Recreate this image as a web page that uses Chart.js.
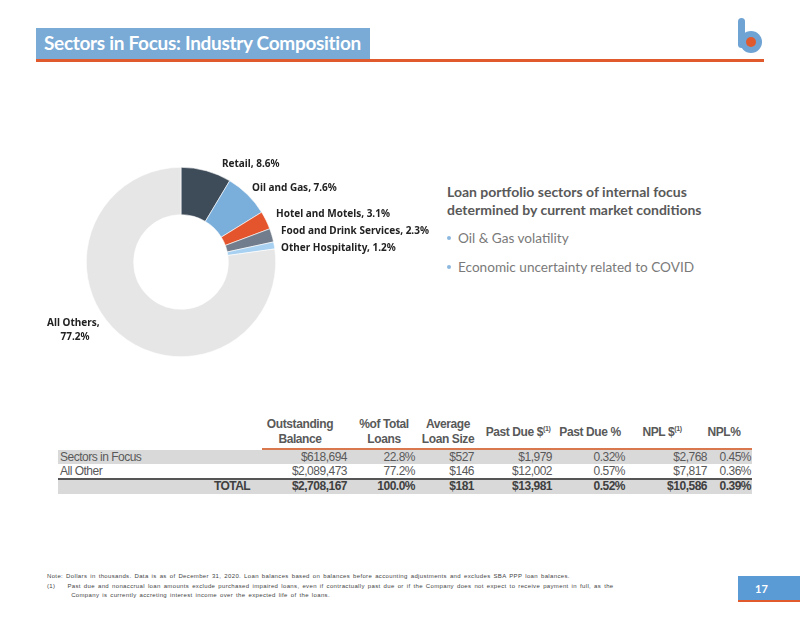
<!DOCTYPE html>
<html><head><meta charset="utf-8">
<script src="https://cdn.jsdelivr.net/npm/chart.js@4"></script>
<style>
html,body{margin:0;padding:0;background:#fff;}
#page{position:relative;width:800px;height:618px;overflow:hidden;font-family:"Liberation Sans",Arial,sans-serif;}
.abs{position:absolute;white-space:nowrap;}
#titlebar{left:36px;top:28px;width:334px;height:31px;background:#7aaad6;}
#title{left:44px;top:29px;font-family:Lato,sans-serif;font-weight:700;font-size:19px;color:#fff;letter-spacing:-0.3px;line-height:28px;}
#rule{left:36px;top:59px;width:728px;height:3px;background:#e05a2e;}
.lbl{font-family:"Noto Sans",sans-serif;font-weight:700;font-size:10px;color:#222;line-height:12px;}
#chartbox{left:86px;top:167px;width:190px;height:190px;}
.rt1{left:447px;font-family:Lato,sans-serif;font-weight:700;font-size:14px;color:#595959;line-height:18px;}
.bul{left:458px;font-family:Lato,sans-serif;font-size:13.6px;color:#7a7a7a;line-height:18px;}
.dot{width:4px;height:4px;border-radius:2px;background:#8cb8de;}
#foot{left:47px;top:572px;font-size:6px;color:#444;line-height:9.5px;letter-spacing:0.35px;word-spacing:1px;}
#pgbox{left:738px;top:576px;width:62px;height:24px;background:#5b9bd5;border-bottom:2px solid #e05a2e;}
#pg{left:755px;top:582px;font-family:Lato,sans-serif;font-weight:700;font-size:11px;color:#fff;}
</style></head>
<body><div id="page">
<div class="abs" id="titlebar"></div>
<div class="abs" id="title">Sectors in Focus: Industry Composition</div>
<div class="abs" id="rule"></div>
<!-- logo -->
<div class="abs" style="left:738px;top:18px;width:7px;height:30px;border-radius:4px;background:#6fa3d4;"></div>
<div class="abs" style="left:740px;top:31px;width:22px;height:22px;border-radius:11px;background:#6fa3d4;"></div>
<div class="abs" style="left:746px;top:37px;width:10px;height:10px;border-radius:5px;background:#e05a2e;"></div>

<div class="abs" id="chartbox"><canvas id="c" width="190" height="190"></canvas></div>
<div id="labels"></div>

<div class="abs rt1" style="top:183px;">Loan portfolio sectors of internal focus</div>
<div class="abs rt1" style="top:201px;">determined by current market conditions</div>
<div class="abs dot" style="left:447px;top:236px;"></div>
<div class="abs bul" style="top:229px;">Oil &amp; Gas volatility</div>
<div class="abs dot" style="left:447px;top:265px;"></div>
<div class="abs bul" style="top:258px;">Economic uncertainty related to COVID</div>

<div id="tbl"></div>

<div class="abs" id="foot">Note: Dollars in thousands. Data is as of December 31, 2020. Loan balances based on balances before accounting adjustments and excludes SBA PPP loan balances.<br>(1)&nbsp;&nbsp;&nbsp;&nbsp;Past due and nonaccrual loan amounts exclude purchased impaired loans, even if contractually past due or if the Company does not expect to receive payment in full, as the<br>&nbsp;&nbsp;&nbsp;&nbsp;&nbsp;&nbsp;&nbsp;&nbsp;Company is currently accreting interest income over the expected life of the loans.</div>
<div class="abs" id="pgbox"></div>
<div class="abs" id="pg">17</div>
</div>
<script>
// ---- data ----
const sectors = ["Retail", "Oil and Gas", "Hotel and Motels", "Food and Drink Services", "Other Hospitality", "All Others"];
const shares = [8.6, 7.6, 3.1, 2.3, 1.2, 77.2];
const sliceColors = ["#3e4b59", "#7aaedb", "#e4552d", "#717d8c", "#a8d0f0", "#e6e6e6"];

const tableHeaders = ["Outstanding<br>Balance", "%of Total<br>Loans", "Average<br>Loan Size", "Past Due $<sup>(1)</sup>", "Past Due %", "NPL $<sup>(1)</sup>", "NPL%"];
const rowNames = ["Sectors in Focus", "All Other", "TOTAL"];
const outstandingBalance = ["$618,694", "$2,089,473", "$2,708,167"];
const pctOfTotal = ["22.8%", "77.2%", "100.0%"];
const avgLoanSize = ["$527", "$146", "$181"];
const pastDueAmt = ["$1,979", "$12,002", "$13,981"];
const pastDuePct = ["0.32%", "0.57%", "0.52%"];
const nplAmt = ["$2,768", "$7,817", "$10,586"];
const nplPct = ["0.45%", "0.36%", "0.39%"];

// ---- labels (positions only) ----
const labelPos = [[222,157],[252,181],[276,207],[281,224],[281,241]];
let lh = "";
sectors.forEach((s,i)=>{
  if(i<5) lh += `<div class="abs lbl" style="left:${labelPos[i][0]}px;top:${labelPos[i][1]}px;">${s}, ${shares[i].toFixed(1)}%</div>`;
});
lh += `<div class="abs lbl" style="left:47px;top:316px;">${sectors[5]},</div>`;
lh += `<div class="abs lbl" style="left:47px;top:330px;width:56px;text-align:center;">${shares[5].toFixed(1)}%</div>`;
document.getElementById("labels").innerHTML = lh;

// ---- table ----
const cols = [outstandingBalance, pctOfTotal, avgLoanSize, pastDueAmt, pastDuePct, nplAmt, nplPct];
const hdrCenters = [300, 384, 448, 518, 590, 662, 724];
const valRight = [347, 415, 474, 552, 625, 707, 751];
let t = "";
tableHeaders.forEach((h,i)=>{
  const two = h.indexOf("<br>")>=0;
  t += `<div class="abs" style="left:${hdrCenters[i]-60}px;width:120px;top:${two?417:425}px;text-align:center;font-family:'Liberation Sans',Arial,sans-serif;font-weight:700;font-size:12px;line-height:15px;color:#595959;letter-spacing:-0.4px;">${h.replace(/<sup>/g,'<sup style="font-size:7px;line-height:0;">')}</div>`;
});
t += `<div class="abs" style="left:262px;top:448px;width:490px;height:2px;background:#d9774f;"></div>`;
const rowTop = [450, 464, 479];
const rowBg = ["#d9d9d9", "#ffffff", "#d9d9d9"];
rowNames.forEach((r,ri)=>{
  t += `<div class="abs" style="left:58px;top:${rowTop[ri]}px;width:694px;height:${ri==2?15:14}px;background:${rowBg[ri]};"></div>`;
  const bold = ri==2 ? "font-weight:700;" : "";
  if(ri<2) t += `<div class="abs" style="left:60px;top:${rowTop[ri]}px;font-size:12px;line-height:14px;color:#595959;letter-spacing:-0.5px;">${r}</div>`;
  else t += `<div class="abs" style="left:150px;width:100px;text-align:right;top:${rowTop[ri]}px;font-size:12px;line-height:15px;color:#404040;font-weight:700;letter-spacing:-0.6px;">${r}</div>`;
  cols.forEach((c,ci)=>{
    t += `<div class="abs" style="left:${valRight[ci]-100}px;width:100px;text-align:right;top:${rowTop[ri]}px;font-size:12px;line-height:${ri==2?15:14}px;color:${ri==2?'#404040':'#595959'};${bold}letter-spacing:-0.5px;">${c[ri]}</div>`;
  });
});
t += `<div class="abs" style="left:58px;top:478px;width:694px;height:1.5px;background:#555;"></div>`;
document.getElementById("tbl").innerHTML = t;

// ---- chart ----
new Chart(document.getElementById("c"), {
  type: "doughnut",
  data: { labels: sectors, datasets: [{ data: shares, backgroundColor: sliceColors, borderColor: "#ffffff", borderWidth: 0.6 }] },
  options: {
    responsive: false, animation: false, cutout: "50%",
    layout: { padding: 0 },
    plugins: { legend: { display: false }, tooltip: { enabled: false } }
  }
});
</script>
</body></html>
